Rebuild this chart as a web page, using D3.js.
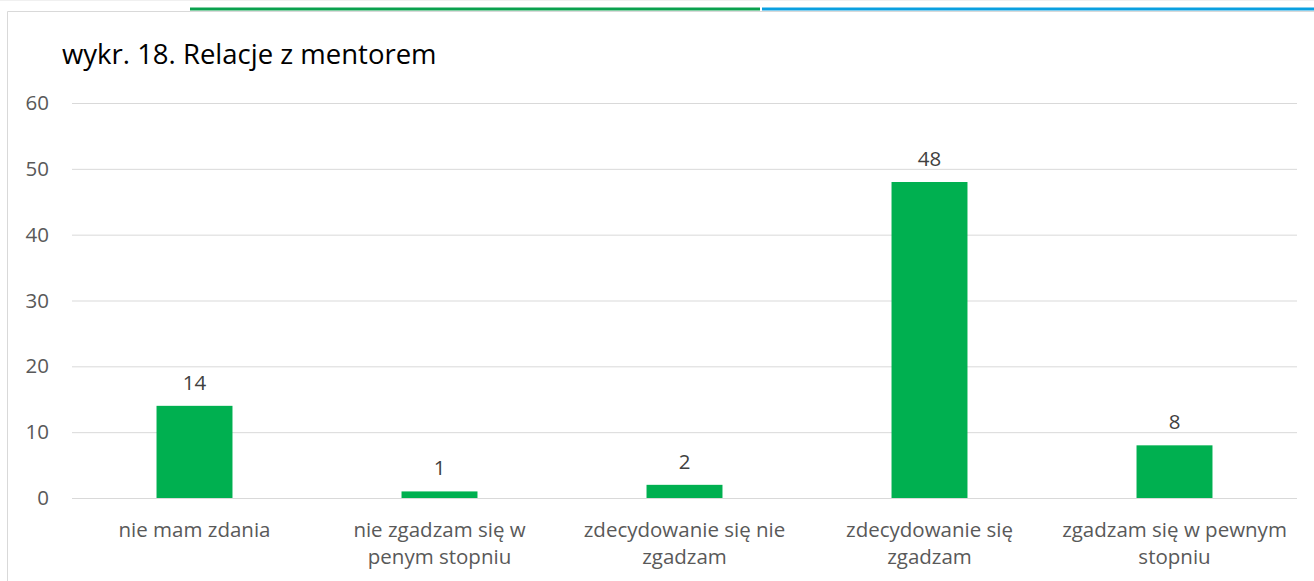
<!DOCTYPE html>
<html>
<head>
<meta charset="utf-8">
<script src="https://cdn.jsdelivr.net/npm/d3@7"></script>
<style>
  body { margin: 0; background: #fff; }
  text { font-family: "Open Sans", sans-serif; }
</style>
</head>
<body>
<div id="main"></div>
<script>
// chart data
var categories = [
    ["nie mam zdania"],
    ["nie zgadzam się w", "penym stopniu"],
    ["zdecydowanie się nie", "zgadzam"],
    ["zdecydowanie się", "zgadzam"],
    ["zgadzam się w pewnym", "stopniu"]
];
var values = [14, 1, 2, 48, 8];
var yTicks = [0, 10, 20, 30, 40, 50, 60];
var title = "wykr. 18. Relacje z mentorem";

var ctx = {w: 1314, h: 581, left: 72, right: 1297, top: 103, bottom: 498};

var createViz = function(){
    var svg = d3.select("#main").append("svg")
                .attr("width", ctx.w)
                .attr("height", ctx.h);

    // page decoration above the chart frame
    svg.append("line").attr("x1", 0).attr("x2", ctx.w).attr("y1", 0.5).attr("y2", 0.5)
       .style("stroke", "#f0f0f0");
    svg.append("line").attr("x1", 190).attr("x2", 760).attr("y1", 9).attr("y2", 9)
       .style("stroke", "#0aa14e").style("stroke-width", 3);
    svg.append("line").attr("x1", 762).attr("x2", ctx.w).attr("y1", 9).attr("y2", 9)
       .style("stroke", "#0aa0e0").style("stroke-width", 3);

    // chart frame
    svg.append("path")
       .attr("d", `M7.5,${ctx.h} V11.5 H${ctx.w}`)
       .style("fill", "none").style("stroke", "#d9d9d9");

    // title
    svg.append("text")
       .attr("x", 62).attr("y", 64)
       .style("font-size", "27.5px").style("fill", "#000")
       .text(title);

    var x = d3.scaleBand().domain(d3.range(categories.length))
              .range([ctx.left, ctx.right]).padding(0);
    var y = d3.scaleLinear().domain([0, 60]).range([ctx.bottom, ctx.top]);
    var barW = x.bandwidth() * 0.31;

    // gridlines + y labels
    var yAxis = svg.append("g")
       .attr("transform", `translate(${ctx.left},0)`)
       .call(d3.axisLeft(y).tickValues(yTicks).tickSize(-(ctx.right - ctx.left)).tickPadding(23));
    yAxis.select(".domain").remove();
    yAxis.selectAll("line").style("stroke", "#d9d9d9");
    yAxis.selectAll("text").style("font-size", "20.5px").style("fill", "#595959")
         .style("font-family", "'Open Sans', sans-serif");

    // bars
    svg.append("g").selectAll("rect")
       .data(values)
       .enter().append("rect")
       .attr("x", function(d, i){ return x(i) + x.bandwidth()/2 - barW/2; })
       .attr("y", function(d){ return y(d); })
       .attr("width", barW)
       .attr("height", function(d){ return y(0) - y(d); })
       .style("fill", "#00b050");

    // value labels
    svg.append("g").selectAll("text")
       .data(values)
       .enter().append("text")
       .attr("x", function(d, i){ return x(i) + x.bandwidth()/2; })
       .attr("y", function(d){ return y(d) - 16; })
       .attr("text-anchor", "middle")
       .style("font-size", "20.5px").style("fill", "#404040")
       .text(function(d){ return d; });

    // category labels
    var cat = svg.append("g").selectAll("text")
       .data(categories)
       .enter().append("text")
       .attr("x", function(d, i){ return x(i) + x.bandwidth()/2; })
       .attr("y", 537)
       .attr("text-anchor", "middle")
       .style("font-size", "20.5px").style("fill", "#595959");
    cat.selectAll("tspan")
       .data(function(d){ return d; })
       .enter().append("tspan")
       .attr("x", function(){ return this.parentNode.getAttribute("x"); })
       .attr("dy", function(d, i){ return i === 0 ? 0 : 27; })
       .text(function(d){ return d; });
};

createViz();
</script>
</body>
</html>
